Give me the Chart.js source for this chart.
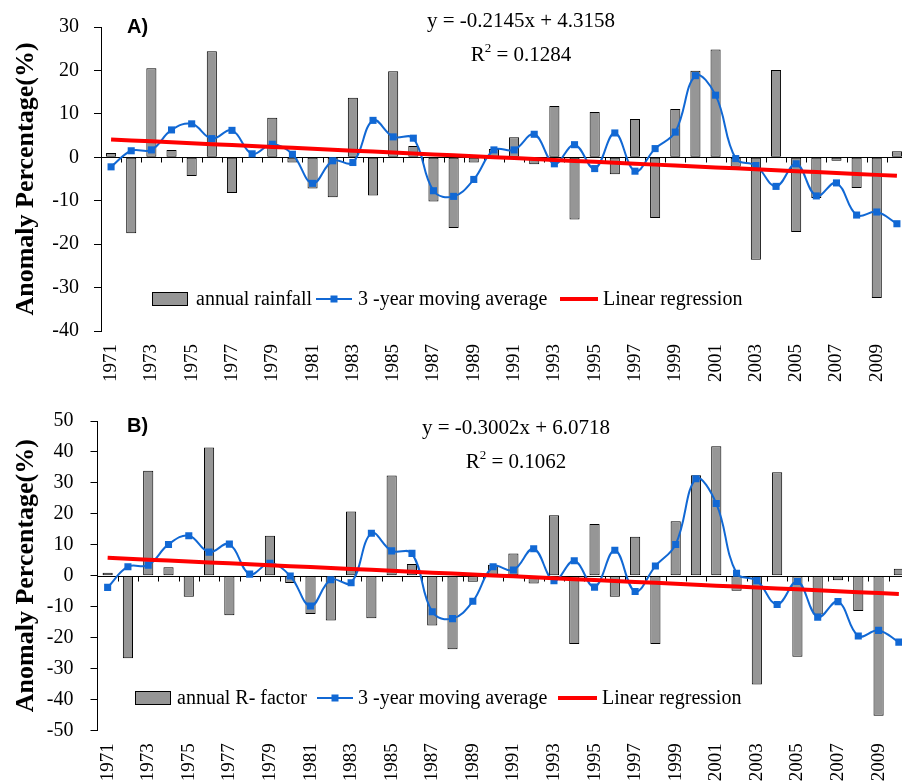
<!DOCTYPE html>
<html>
<head>
<meta charset="utf-8">
<script src="https://cdn.jsdelivr.net/npm/chart.js@4.4.0/dist/chart.umd.min.js"></script>
<style>
  html, body { margin: 0; padding: 0; background: #fff; overflow: hidden; }
  body { width: 902px; height: 784px; position: relative; }
  .panel { position: absolute; left: 0; width: 914px; height: 392px; }
  #panelA { top: 0; }
  #panelB { top: 392px; }
</style>
</head>
<body>
<div class="panel" id="panelA"><canvas id="chartA" width="914" height="392"></canvas></div>
<div class="panel" id="panelB"><canvas id="chartB" width="914" height="392"></canvas></div>
<script>
const years = [
  '1971', '1972', '1973', '1974', '1975', '1976', '1977', '1978', '1979', '1980',
  '1981', '1982', '1983', '1984', '1985', '1986', '1987', '1988', '1989', '1990',
  '1991', '1992', '1993', '1994', '1995', '1996', '1997', '1998', '1999', '2000',
  '2001', '2002', '2003', '2004', '2005', '2006', '2007', '2008', '2009', '2010'
];

// A) annual rainfall anomaly (%)
const rainfallAnomaly = [
  1.0, -17.5, 20.5, 1.7, -4.3, 24.4, -8.2, 0, 9.1, -1.2,
  -7.2, -9.2, 13.7, -8.8, 19.8, 2.6, -10.2, -16.3, -1.2, 1.9,
  4.6, -1.6, 11.8, -14.3, 10.4, -3.9, 8.8, -14.0, 11.1, 19.9,
  24.8, -2.2, -23.6, 20.1, -17.2, -9.4, -0.8, -7.1, -32.4, 1.4
];
const rainfallMovingAvg = [
  -2.2, 1.5, 1.7, 6.3, 7.7, 4.3, 6.2, 0.8, 3.0, 0.7,
  -6.0, -0.8, -1.2, 8.5, 4.7, 4.4, -7.7, -9.0, -5.1, 1.7,
  1.7, 5.3, -1.5, 2.9, -2.6, 5.6, -3.2, 2.0, 5.8, 18.8,
  14.3, -0.3, -1.9, -6.7, -1.5, -8.9, -5.9, -13.3, -12.6, -15.3
];
const rainfallSlope = -0.2145;
const rainfallIntercept = 4.3158;
const rainfallR2 = '0.1284';

// B) annual R-factor anomaly (%)
const rFactorAnomaly = [
  0.9, -26.7, 33.9, 2.7, -6.8, 41.4, -12.8, 0, 12.9, -2.4,
  -12.4, -14.5, 20.7, -13.8, 32.4, 3.8, -16.1, -23.8, -2.0, 3.5,
  7.2, -2.5, 19.5, -22.1, 16.7, -6.8, 12.6, -22.1, 17.6, 32.5,
  41.8, -4.9, -35.2, 33.4, -26.2, -12.6, -1.5, -11.4, -45.3, 2.2
];
const rFactorMovingAvg = [
  -3.8, 2.9, 3.4, 10.1, 12.9, 7.6, 10.2, 0.5, 4.0, -0.1,
  -9.8, -1.3, -2.3, 13.7, 8.0, 7.2, -11.7, -13.9, -8.3, 2.9,
  1.8, 8.7, -1.6, 4.8, -3.7, 8.2, -5.1, 3.1, 10.1, 31.3,
  23.3, 0.8, -1.6, -9.3, -1.9, -13.4, -8.4, -19.5, -17.7, -21.5
];
const rFactorSlope = -0.3002;
const rFactorIntercept = 6.0718;
const rFactorR2 = '0.1062';

const SERIF = '"Liberation Serif", "Times New Roman", serif';
const BAR_GREY = '#969696';
const AVG_BLUE = '#1168d4';
const TREND_RED = '#ff0000';

// trend line straight from the fitted equation, x = 1..n
function trendLine(slope, intercept) {
  return years.map((_, i) => +(slope * (i + 1) + intercept).toFixed(3));
}

function fmt(n) {
  return n < 0 ? '-' + Math.abs(n) : String(n);
}

// horizontal zero axis with small ticks between the years
const zeroAxis = {
  id: 'zeroAxis',
  beforeDatasetsDraw(chart) {
    const { ctx, chartArea, scales: { x, y } } = chart;
    const y0 = Math.round(y.getPixelForValue(0)) + 0.5;
    const half = (x.getPixelForTick(1) - x.getPixelForTick(0)) / 2;
    ctx.save();
    ctx.strokeStyle = '#000';
    ctx.lineWidth = 1;
    ctx.beginPath();
    ctx.moveTo(chartArea.left, y0);
    ctx.lineTo(chartArea.right, y0);
    for (let i = 0; i < x.ticks.length; i++) {
      const px = Math.round(x.getPixelForTick(i) + half) + 0.5;
      ctx.moveTo(px, y0);
      ctx.lineTo(px, y0 + 5);
    }
    ctx.stroke();
    ctx.restore();
  }
};

// panel tag, regression equation and the in-plot legend
const panelText = {
  id: 'panelText',
  afterDraw(chart, args, opts) {
    const ctx = chart.ctx;
    ctx.save();
    ctx.fillStyle = '#000';
    ctx.textBaseline = 'alphabetic';

    ctx.font = 'bold 20px "Liberation Sans", Arial, sans-serif';
    ctx.textAlign = 'left';
    ctx.fillText(opts.tag, opts.tagX, opts.tagY);

    ctx.font = '21px ' + SERIF;
    ctx.textAlign = 'center';
    const eq = 'y = ' + fmt(opts.slope) + 'x + ' + fmt(opts.intercept);
    ctx.fillText(eq, opts.eqX, opts.eqY);

    // R² with a raised 2
    const rest = ' = ' + opts.r2;
    const wR = ctx.measureText('R').width;
    const wRest = ctx.measureText(rest).width;
    ctx.font = '13px ' + SERIF;
    const w2 = ctx.measureText('2').width;
    let rx = opts.eqX - (wR + w2 + wRest) / 2;
    ctx.textAlign = 'left';
    ctx.font = '21px ' + SERIF;
    ctx.fillText('R', rx, opts.r2Y);
    ctx.font = '13px ' + SERIF;
    ctx.fillText('2', rx + wR, opts.r2Y - 9);
    ctx.font = '21px ' + SERIF;
    ctx.fillText(rest, rx + wR + w2, opts.r2Y);

    // legend, one entry per dataset
    const lg = opts.legend;
    const ds = chart.data.datasets;
    const my = lg.y;
    ctx.font = '20px ' + SERIF;
    ctx.textBaseline = 'middle';

    ctx.fillStyle = ds[0].backgroundColor;
    ctx.fillRect(lg.boxX, my - 6.5, 35, 13);
    ctx.strokeStyle = '#000';
    ctx.lineWidth = 1;
    ctx.strokeRect(lg.boxX + 0.5, my - 6.5, 35, 13);
    ctx.fillStyle = '#000';
    ctx.fillText(ds[0].label, lg.text0, my + 1);

    ctx.strokeStyle = ds[1].borderColor;
    ctx.lineWidth = 2;
    ctx.beginPath();
    ctx.moveTo(lg.line1[0], my);
    ctx.lineTo(lg.line1[1], my);
    ctx.stroke();
    ctx.fillStyle = ds[1].borderColor;
    const mx = (lg.line1[0] + lg.line1[1]) / 2;
    ctx.fillRect(mx - 3.5, my - 3.5, 7, 7);
    ctx.fillStyle = '#000';
    ctx.fillText(ds[1].label, lg.text1, my + 1);

    ctx.strokeStyle = ds[2].borderColor;
    ctx.lineWidth = 4;
    ctx.beginPath();
    ctx.moveTo(lg.line2[0], my);
    ctx.lineTo(lg.line2[1], my);
    ctx.stroke();
    ctx.fillText(ds[2].label, lg.text2, my + 1);

    ctx.restore();
  }
};

function makePanel(canvasId, cfg) {
  return new Chart(document.getElementById(canvasId), {
    type: 'bar',
    data: {
      labels: years,
      datasets: [
        {
          type: 'bar',
          label: cfg.barLabel,
          data: cfg.bars,
          backgroundColor: BAR_GREY,
          borderColor: '#000',
          borderWidth: 1,
          borderSkipped: false,
          barPercentage: 0.5,
          categoryPercentage: 1.0,
          order: 3
        },
        {
          type: 'line',
          label: '3 -year moving average',
          data: cfg.avg,
          borderColor: AVG_BLUE,
          backgroundColor: AVG_BLUE,
          borderWidth: 2,
          tension: 0.4,
          pointStyle: 'rect',
          pointRadius: 5,
          pointBorderWidth: 0,
          order: 2
        },
        {
          type: 'line',
          label: 'Linear regression',
          data: trendLine(cfg.slope, cfg.intercept),
          borderColor: TREND_RED,
          borderWidth: 4,
          pointRadius: 0,
          order: 1
        }
      ]
    },
    options: {
      responsive: false,
      animation: false,
      layout: { padding: { top: cfg.top, right: 914 - cfg.right, left: 0, bottom: 0 } },
      plugins: {
        legend: { display: false },
        tooltip: { enabled: false },
        panelText: {
          tag: cfg.tag, tagX: 127, tagY: cfg.tagY,
          slope: cfg.slope, intercept: cfg.intercept, r2: cfg.r2,
          eqX: cfg.eqX, eqY: cfg.eqY, r2Y: cfg.r2Y,
          legend: cfg.legend
        }
      },
      scales: {
        x: {
          offset: true,
          grid: { display: false, drawTicks: false },
          border: { display: false },
          ticks: {
            autoSkip: false,
            minRotation: 90,
            maxRotation: 90,
            padding: 13,
            color: '#000',
            font: { family: SERIF, size: 19 },
            callback(value, index) {
              return index % 2 === 0 ? this.getLabelForValue(value) : '';
            }
          },
          afterFit(scale) {
            scale.height = 392 - cfg.bottom;
            scale.paddingLeft = 0;
            scale.paddingRight = 0;
          }
        },
        y: {
          min: cfg.yMin,
          max: cfg.yMax,
          ticks: {
            stepSize: 10,
            padding: cfg.tickPad,
            color: '#000',
            font: { family: SERIF, size: 20 }
          },
          grid: { drawOnChartArea: false, tickLength: 7, color: '#000' },
          border: { color: '#000', width: 1 },
          title: {
            display: true,
            text: 'Anomaly Percentage(%)',
            color: '#000',
            font: { family: SERIF, size: 26, weight: 'bold' },
            padding: { top: 11, bottom: 0 }
          },
          afterFit(scale) {
            scale.width = cfg.left;
          }
        }
      }
    },
    plugins: [zeroAxis, panelText]
  });
}

makePanel('chartA', {
  tag: 'A)', tagY: 33,
  barLabel: 'annual rainfall',
  bars: rainfallAnomaly,
  avg: rainfallMovingAvg,
  slope: rainfallSlope, intercept: rainfallIntercept, r2: rainfallR2,
  yMin: -40, yMax: 30,
  left: 101, right: 907, top: 21, bottom: 331,
  tickPad: 15,
  eqX: 521, eqY: 27, r2Y: 61,
  legend: { y: 299, boxX: 152, text0: 196, line1: [316, 352], text1: 358, line2: [560, 598], text2: 603 }
});

makePanel('chartB', {
  tag: 'B)', tagY: 40,
  barLabel: 'annual R- factor',
  bars: rFactorAnomaly,
  avg: rFactorMovingAvg,
  slope: rFactorSlope, intercept: rFactorIntercept, r2: rFactorR2,
  yMin: -50, yMax: 50,
  left: 97.5, right: 909, top: 27.3, bottom: 338.3,
  tickPad: 17,
  eqX: 516, eqY: 42, r2Y: 76,
  legend: { y: 306, boxX: 135, text0: 177, line1: [317, 353], text1: 358, line2: [558, 597], text2: 602 }
});
</script>
</body>
</html>
